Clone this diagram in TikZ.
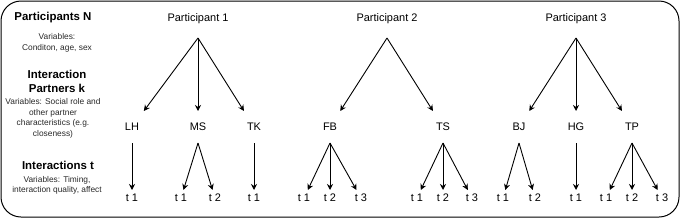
\documentclass[tikz,border=0pt]{standalone}
\usepackage{fontspec}
\setmainfont{Liberation Sans}
\usetikzlibrary{positioning,arrows.meta}
\definecolor{notec}{RGB}{40,40,40}
\tikzset{
  lvl/.style={font=\fontsize{11}{13}\selectfont, inner sep=0pt, text height=8bp, text depth=2bp, outer sep=11bp},
  part/.style={lvl, outer ysep=15bp},
  occ/.style={lvl, outer sep=3bp},
  head/.style={font=\fontsize{11.5}{14}\selectfont\bfseries, align=center, inner sep=0pt},
  note/.style={font=\fontsize{8.4}{10.5}\selectfont, align=center, text=notec, inner sep=0pt},
  flow/.style={-{Stealth[length=6bp,width=6bp]}, line width=0.9bp},
  frame/.style={draw, line width=1bp, rounded corners=20bp}
}

\begin{document}
\begin{tikzpicture}[x=1bp, y=-1bp]
  \useasboundingbox (0,0) rectangle (680,218);
  \draw[frame] (1,1) rectangle (679,217);

  % left column
  \node[head] (hN) at (53,18) {Participants N};
  \node[note] (vN) at (57,43) {Variables:\\Conditon, age, sex};
  \node[head] (hK) at (57,81) {Interaction\\Partners k};
  \node[note] (vK) at (53,118.5) {Variables: Social role and\\other partner\\characteristics (e.g.\\closeness)};
  \node[head] (hT) at (58,165) {Interactions t};
  \node[note] (vT) at (57,185.5) {Variables: Timing,\\interaction quality, affect};

  % participants
  \node[part] (p1) at (198,18) {Participant 1};
  \node[part] (p2) at (387,18) {Participant 2};
  \node[part] (p3) at (576,18) {Participant 3};

  % partners
  \node[lvl] (lh) at (132,127) {LH};
  \node[lvl] (ms) at (198,127) {MS};
  \node[lvl] (tk) at (254,127) {TK};
  \node[lvl] (fb) at (330,127) {FB};
  \node[lvl] (ts) at (443,127) {TS};
  \node[lvl] (bj) at (519,127) {BJ};
  \node[lvl] (hg) at (576,127) {HG};
  \node[lvl] (tp) at (632,127) {TP};

  % interactions
  \node[occ] (lh1) at (132,198) {t 1};
  \node[occ] (ms1) at (181,198) {t 1};
  \node[occ] (ms2) at (215,198) {t 2};
  \node[occ] (tk1) at (254,198) {t 1};
  \node[occ] (fb1) at (304,198) {t 1};
  \node[occ] (fb2) at (330,198) {t 2};
  \node[occ] (fb3) at (361,198) {t 3};
  \node[occ] (ts1) at (417,198) {t 1};
  \node[occ] (ts2) at (443,198) {t 2};
  \node[occ] (ts3) at (472,198) {t 3};
  \node[occ] (bj1) at (503,198) {t 1};
  \node[occ] (bj2) at (535,198) {t 2};
  \node[occ] (hg1) at (576,198) {t 1};
  \node[occ] (tp1) at (606,198) {t 1};
  \node[occ] (tp2) at (632,198) {t 2};
  \node[occ] (tp3) at (662,198) {t 3};

  \draw[flow] (p1.south) -- (lh);
  \draw[flow] (p1.south) -- (ms);
  \draw[flow] (p1.south) -- (tk);
  \draw[flow] (p2.south) -- (fb);
  \draw[flow] (p2.south) -- (ts);
  \draw[flow] (p3.south) -- (bj);
  \draw[flow] (p3.south) -- (hg);
  \draw[flow] (p3.south) -- (tp);

  \draw[flow] (lh.south) -- (lh1);
  \draw[flow] (ms.south) -- (ms1);
  \draw[flow] (ms.south) -- (ms2);
  \draw[flow] (tk.south) -- (tk1);
  \draw[flow] (fb.south) -- (fb1);
  \draw[flow] (fb.south) -- (fb2);
  \draw[flow] (fb.south) -- (fb3);
  \draw[flow] (ts.south) -- (ts1);
  \draw[flow] (ts.south) -- (ts2);
  \draw[flow] (ts.south) -- (ts3);
  \draw[flow] (bj.south) -- (bj1);
  \draw[flow] (bj.south) -- (bj2);
  \draw[flow] (hg.south) -- (hg1);
  \draw[flow] (tp.south) -- (tp1);
  \draw[flow] (tp.south) -- (tp2);
  \draw[flow] (tp.south) -- (tp3);
\end{tikzpicture}
\end{document}
